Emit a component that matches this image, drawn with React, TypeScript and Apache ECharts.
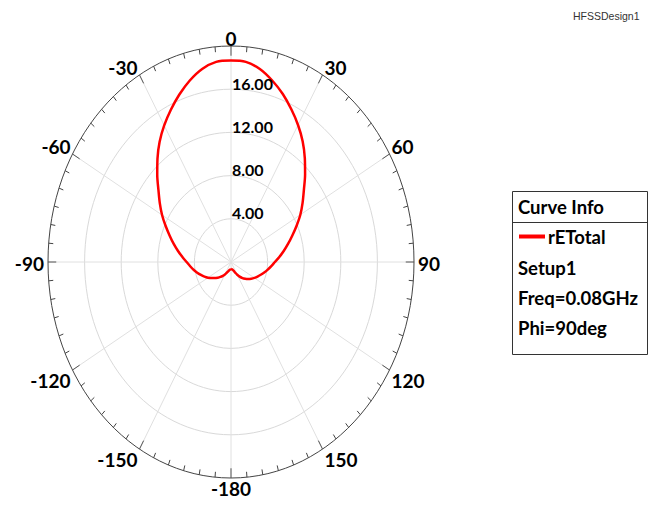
import React, { useEffect, useRef } from "react";
import * as echarts from "echarts";

// ---- data ----
const thetaDeg = [
  -180, -175, -170, -165, -160, -155, -150, -145, -140, -135, -130, -125, -120, -115, -110, -105,
  -100, -95, -90, -85, -80, -75, -70, -65, -60, -55, -50, -45, -40, -35, -30, -25, -20, -15, -10, -5,
  0, 5, 10, 15, 20, 25, 30, 35, 40, 45, 50, 55, 60, 65, 70, 75, 80, 85, 90, 95, 100, 105, 110, 115,
  120, 125, 130, 135, 140, 145, 150, 155, 160, 165, 170, 175, 180,
];
const rETotal = [
  0.65, 0.67, 0.72, 0.8, 0.92, 1.1, 1.33, 1.56, 1.8, 2.05, 2.32, 2.6, 2.9, 3.2, 3.5, 3.82,
  4.15, 4.48, 4.85, 5.33, 5.88, 6.48, 7.13, 7.88, 8.7, 9.5, 10.35, 11.4, 12.5, 13.6, 14.6, 15.55, 16.5, 17.4, 18.15, 18.6,
  18.65, 18.6, 18.15, 17.4, 16.55, 15.6, 14.65, 13.65, 12.55, 11.45, 10.4, 9.55, 8.75, 7.9, 7.12, 6.45, 5.85, 5.3, 4.8, 4.42, 4.08, 3.76, 3.46, 3.2,
  2.95, 2.7, 2.45, 2.2, 1.95, 1.65, 1.36, 1.08, 0.88, 0.76, 0.7, 0.66, 0.65,
];
const ringValues = [4, 8, 12, 16];
const radiusLabels = ["4.00", "8.00", "12.00", "16.00"];
const outerRadius = 20;
const angleLabelValues = [0, 30, 60, 90, 120, 150, -180, -150, -120, -90, -60, -30];
const spokeAngles = [0, 30, 60, 90, 120, 150, 180, 210, 240, 270, 300, 330];
const tickStepDeg = 5;
const legendLines = ["Setup1", "Freq=0.08GHz", "Phi=90deg"];

const FONT = "Lato, 'Open Sans', sans-serif";

function toXY(deg: number, r: number): [number, number] {
  const a = (deg * Math.PI) / 180;
  return [r * Math.sin(a), r * Math.cos(a)];
}

export default function App() {
  const ref = useRef<HTMLDivElement>(null);
  useEffect(() => {
    if (!ref.current) return;
    const chart = echarts.init(ref.current, null, { renderer: "svg" });

    const curveData = thetaDeg.map((t, i) => toXY(t, rETotal[i]));
    const tickAngles: number[] = [];
    for (let a = -180; a < 180; a += tickStepDeg) tickAngles.push(a);

    const option: any = {
      animation: false,
      backgroundColor: "#fff",
      grid: { left: 48, top: 46, width: 366, height: 432 },
      xAxis: { type: "value", min: -outerRadius, max: outerRadius, show: false },
      yAxis: { type: "value", min: -outerRadius, max: outerRadius, show: false },
      legend: {
        left: 519,
        top: 227,
        padding: 0,
        itemWidth: 26,
        itemHeight: 4,
        itemGap: 4,
        icon: "rect",
        data: [{ name: "rETotal", itemStyle: { color: "#ff0000" } }],
        textStyle: { fontFamily: FONT, fontWeight: "bold", fontSize: 18.5, color: "#000", padding: [0, 0, 0, -2] },
      },
      graphic: [
        {
          type: "text",
          left: 573,
          top: 10,
          style: { text: "HFSSDesign1", font: "10.5px 'Liberation Sans', Arial, sans-serif", fill: "#333" },
        },
        {
          type: "rect",
          shape: { x: 512.5, y: 191.5, width: 135, height: 163 },
          style: { fill: "#fff", stroke: "#333", lineWidth: 1 },
          z: -1,
        },
        {
          type: "line",
          shape: { x1: 512.5, y1: 222.5, x2: 647.5, y2: 222.5 },
          style: { stroke: "#333", lineWidth: 1 },
        },
        {
          type: "text",
          x: 518,
          y: 207,
          style: {
            text: "Curve Info",
            fontFamily: FONT,
            fontWeight: "bold",
            fontSize: 18.5,
            fill: "#000",
            verticalAlign: "middle",
          },
        },
        ...legendLines.map((t, i) => ({
          type: "text",
          x: 518,
          y: 268 + i * 30,
          style: {
            text: t,
            fontFamily: FONT,
            fontWeight: "bold",
            fontSize: 18.5,
            fill: "#000",
            verticalAlign: "middle",
          },
        })),
      ],
      series: [
        {
          type: "custom",
          name: "rings",
          coordinateSystem: "cartesian2d",
          silent: true,
          z: 1,
          data: ringValues.map((r) => [r, 0]),
          encode: { x: 0, y: 1 },
          renderItem: (params: any, api: any) => {
            const r = api.value(0);
            const c = api.coord([0, 0]);
            const s = api.size([r, r]);
            return {
              type: "ellipse",
              shape: { cx: c[0], cy: c[1], rx: s[0], ry: s[1] },
              style: { fill: "none", stroke: "#d9d9d9", lineWidth: 1 },
            };
          },
        },
        {
          type: "custom",
          name: "spokes",
          coordinateSystem: "cartesian2d",
          silent: true,
          z: 1,
          data: spokeAngles.map((a) => [a, 0]),
          encode: { x: 0, y: 1 },
          renderItem: (params: any, api: any) => {
            const a = api.value(0);
            const c = api.coord([0, 0]);
            const p = api.coord(toXY(a, outerRadius));
            return {
              type: "line",
              shape: { x1: c[0], y1: c[1], x2: p[0], y2: p[1] },
              style: { stroke: "#e0e0e0", lineWidth: 1 },
            };
          },
        },
        {
          type: "custom",
          name: "outer",
          coordinateSystem: "cartesian2d",
          silent: true,
          z: 2,
          data: [[outerRadius, 0]],
          encode: { x: 0, y: 1 },
          renderItem: (params: any, api: any) => {
            const r = api.value(0);
            const c = api.coord([0, 0]);
            const s = api.size([r, r]);
            return {
              type: "ellipse",
              shape: { cx: c[0], cy: c[1], rx: s[0], ry: s[1] },
              style: { fill: "none", stroke: "#444", lineWidth: 1 },
            };
          },
        },
        {
          type: "custom",
          name: "ticks",
          coordinateSystem: "cartesian2d",
          silent: true,
          z: 2,
          data: tickAngles.map((a) => [a, 0]),
          encode: { x: 0, y: 1 },
          renderItem: (params: any, api: any) => {
            const a = api.value(0);
            const major = a % 30 === 0;
            const p1 = api.coord(toXY(a, outerRadius));
            const p2 = api.coord(toXY(a, outerRadius - (major ? 0.9 : 0.5)));
            return {
              type: "line",
              shape: { x1: p1[0], y1: p1[1], x2: p2[0], y2: p2[1] },
              style: { stroke: major ? "#555" : "#444", lineWidth: 1 },
            };
          },
        },
        {
          type: "line",
          name: "rETotal",
          data: curveData,
          smooth: 0.3,
          showSymbol: false,
          symbol: "none",
          z: 5,
          lineStyle: { color: "#ff0000", width: 2.5 },
          itemStyle: { color: "#ff0000" },
        },
        {
          type: "custom",
          name: "radiusLabels",
          coordinateSystem: "cartesian2d",
          silent: true,
          z: 6,
          data: ringValues.map((r, i) => [r, 0, i]),
          encode: { x: 0, y: 1 },
          renderItem: (params: any, api: any) => {
            const r = api.value(0);
            const i = api.value(2);
            const p = api.coord([0, r]);
            return {
              type: "text",
              x: p[0] + 1,
              y: p[1] - 6,
              style: {
                text: radiusLabels[i],
                fontFamily: FONT,
                fontWeight: "bold",
                fontSize: 16,
                fill: "#000",
                align: "left",
                verticalAlign: "middle",
              },
            };
          },
        },
        {
          type: "custom",
          name: "angleLabels",
          coordinateSystem: "cartesian2d",
          silent: true,
          z: 6,
          data: angleLabelValues.map((a) => [a, 0]),
          encode: { x: 0, y: 1 },
          renderItem: (params: any, api: any) => {
            const a = api.value(0);
            const rad = (a * Math.PI) / 180;
            const s = Math.sin(rad);
            const c = Math.cos(rad);
            const p = api.coord(toXY(a, outerRadius));
            const align = Math.abs(s) < 1e-6 ? "center" : s > 0 ? "left" : "right";
            const vAlign = Math.abs(c) < 1e-6 ? "middle" : c > 0 ? "bottom" : "top";
            let dx = align === "left" ? 2 : align === "right" ? -2 : 0;
            if (vAlign === "middle") dx *= 2;
            const dy = vAlign === "bottom" ? 2 : 1;
            return {
              type: "text",
              x: p[0] + dx,
              y: p[1] + dy,
              style: {
                text: String(a),
                fontFamily: FONT,
                fontWeight: "bold",
                fontSize: 19,
                fill: "#000",
                align,
                verticalAlign: vAlign,
              },
            };
          },
        },
      ],
    };
    chart.setOption(option);
    return () => chart.dispose();
  }, []);
  return (
    <div
      ref={ref}
      style={{ position: "fixed", left: 0, top: 0, width: 653, height: 505, background: "#fff" }}
    />
  );
}
